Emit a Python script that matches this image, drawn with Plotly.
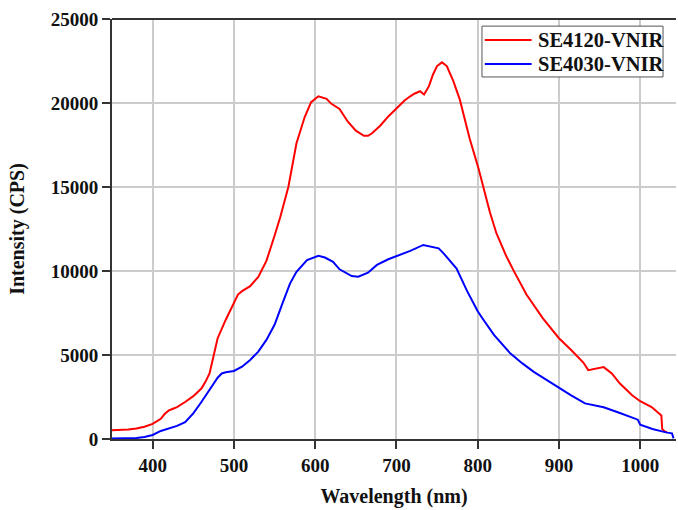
import plotly.graph_objects as go

red_wl = [350, 360, 370, 380, 390, 400, 410, 415, 420, 425, 430, 440, 450, 460, 465, 470, 475, 480, 490,
          500, 505, 510, 520, 530, 540, 550, 557, 567, 577, 587, 595, 604, 614, 620, 625, 630, 640, 650,
          660, 665, 670, 680, 690, 700, 710, 717, 722, 729, 734, 740, 745, 750, 756, 762, 770, 778, 790,
          801, 807, 815, 823, 835, 845, 860, 880, 900, 915, 930, 936, 945, 955, 965, 975, 990, 1000,
          1014, 1026, 1027, 1030, 1033]
red_val = [520, 530, 560, 620, 730, 900, 1200, 1500, 1700, 1800, 1900, 2200, 2550, 3000, 3400, 3900, 4900,
           6000, 7100, 8100, 8600, 8800, 9100, 9650, 10600, 12100, 13200, 15000, 17600, 19150, 20050, 20400,
           20250, 19950, 19800, 19650, 18900, 18350, 18050, 18050, 18200, 18650, 19200, 19650, 20150, 20400,
           20550, 20700, 20500, 21000, 21700, 22200, 22420, 22200, 21300, 20200, 17900, 16100, 15000, 13500,
           12250, 10900, 9950, 8600, 7200, 6000, 5300, 4550, 4100, 4200, 4280, 3900, 3300, 2600, 2250,
           1900, 1400, 600, 450, 400]

blue_wl = [350, 360, 370, 380, 390, 400, 410, 420, 430, 440, 450, 460, 470, 480, 485, 490, 500, 510, 520,
           530, 540, 550, 560, 569, 577, 590, 604, 612, 622, 630, 645, 653, 665, 676, 690, 700, 717, 733,
           746, 752, 758, 765, 774, 787, 800, 807, 820, 840, 855, 869, 885, 901, 915, 932, 955, 975, 997,
           1000, 1015, 1033, 1039, 1041]
blue_val = [30, 30, 40, 60, 120, 240, 480, 640, 780, 1000, 1530, 2200, 2900, 3650, 3900, 3970, 4050, 4300,
            4700, 5200, 5900, 6800, 8100, 9250, 9950, 10650, 10900, 10800, 10550, 10100, 9700, 9660, 9900,
            10360, 10700, 10880, 11200, 11550, 11420, 11350, 11050, 10650, 10150, 8800, 7600, 7100, 6200,
            5100, 4500, 4000, 3500, 3000, 2600, 2120, 1890, 1550, 1150, 850, 600, 380, 340, 40]

series_names = ["SE4120-VNIR", "SE4030-VNIR"]
series_colors = ["#ff0000", "#0000ff"]

x_ticks = [400, 500, 600, 700, 800, 900, 1000]
y_ticks = [0, 5000, 10000, 15000, 20000, 25000]

FONT = "Liberation Serif"
TXT = "#111111"

fig = go.Figure()
for wl, val, name, col in zip([red_wl, blue_wl], [red_val, blue_val], series_names, series_colors):
    fig.add_trace(go.Scatter(x=wl, y=val, mode="lines", name=name,
                             line=dict(color=col, width=2), showlegend=False))

axis_common = dict(
    showline=True, linecolor="#333333", linewidth=2,
    ticks="outside", ticklen=8, tickwidth=2, tickcolor="#333333",
    showgrid=True, gridcolor="#cccccc", gridwidth=1.5,
    zeroline=False, automargin=False,
    tickfont=dict(family=FONT, size=19, color=TXT, weight="bold"),
)

# legend drawn in paper coordinates (box, sample lines, labels)
leg_x0, leg_x1, leg_y0, leg_y1 = 0.656, 0.977, 0.862, 0.983
row_y = [0.950, 0.893]
shapes = [
    dict(type="line", xref="paper", yref="paper", x0=0, x1=1, y0=1, y1=1,
         line=dict(color="#333333", width=2)),
    dict(type="rect", xref="paper", yref="paper", x0=leg_x0, x1=leg_x1, y0=leg_y0, y1=leg_y1,
         fillcolor="white", line=dict(color="#555555", width=1), layer="above"),
]
annotations = []
for ry, name, col in zip(row_y, series_names, series_colors):
    shapes.append(dict(type="line", xref="paper", yref="paper", x0=0.661, x1=0.744, y0=ry, y1=ry,
                       line=dict(color=col, width=2), layer="above"))
    annotations.append(dict(xref="paper", yref="paper", x=0.751, y=ry, text=name, showarrow=False,
                            xanchor="left", yanchor="middle",
                            font=dict(family=FONT, size=20.5, color=TXT, weight="bold")))

fig.update_layout(
    width=678, height=510,
    margin=dict(l=112, r=2, t=19, b=71),
    paper_bgcolor="white", plot_bgcolor="white",
    xaxis=dict(range=[350, 1044], tickvals=x_ticks, ticktext=[str(v) for v in x_ticks],
               title=dict(text="Wavelength (nm)", font=dict(family=FONT, size=20, color=TXT, weight="bold"),
                          standoff=14),
               **axis_common),
    yaxis=dict(range=[0, 25000], tickvals=y_ticks, ticktext=[str(v) for v in y_ticks],
               title=dict(text="Intensity (CPS)", font=dict(family=FONT, size=20, color=TXT, weight="bold"),
                          standoff=21),
               **axis_common),
    showlegend=False,
    shapes=shapes,
    annotations=annotations,
)

fig.write_html("out.html", config={"displayModeBar": False},
               post_script="document.body.style.margin='0';document.body.style.overflow='hidden';")
